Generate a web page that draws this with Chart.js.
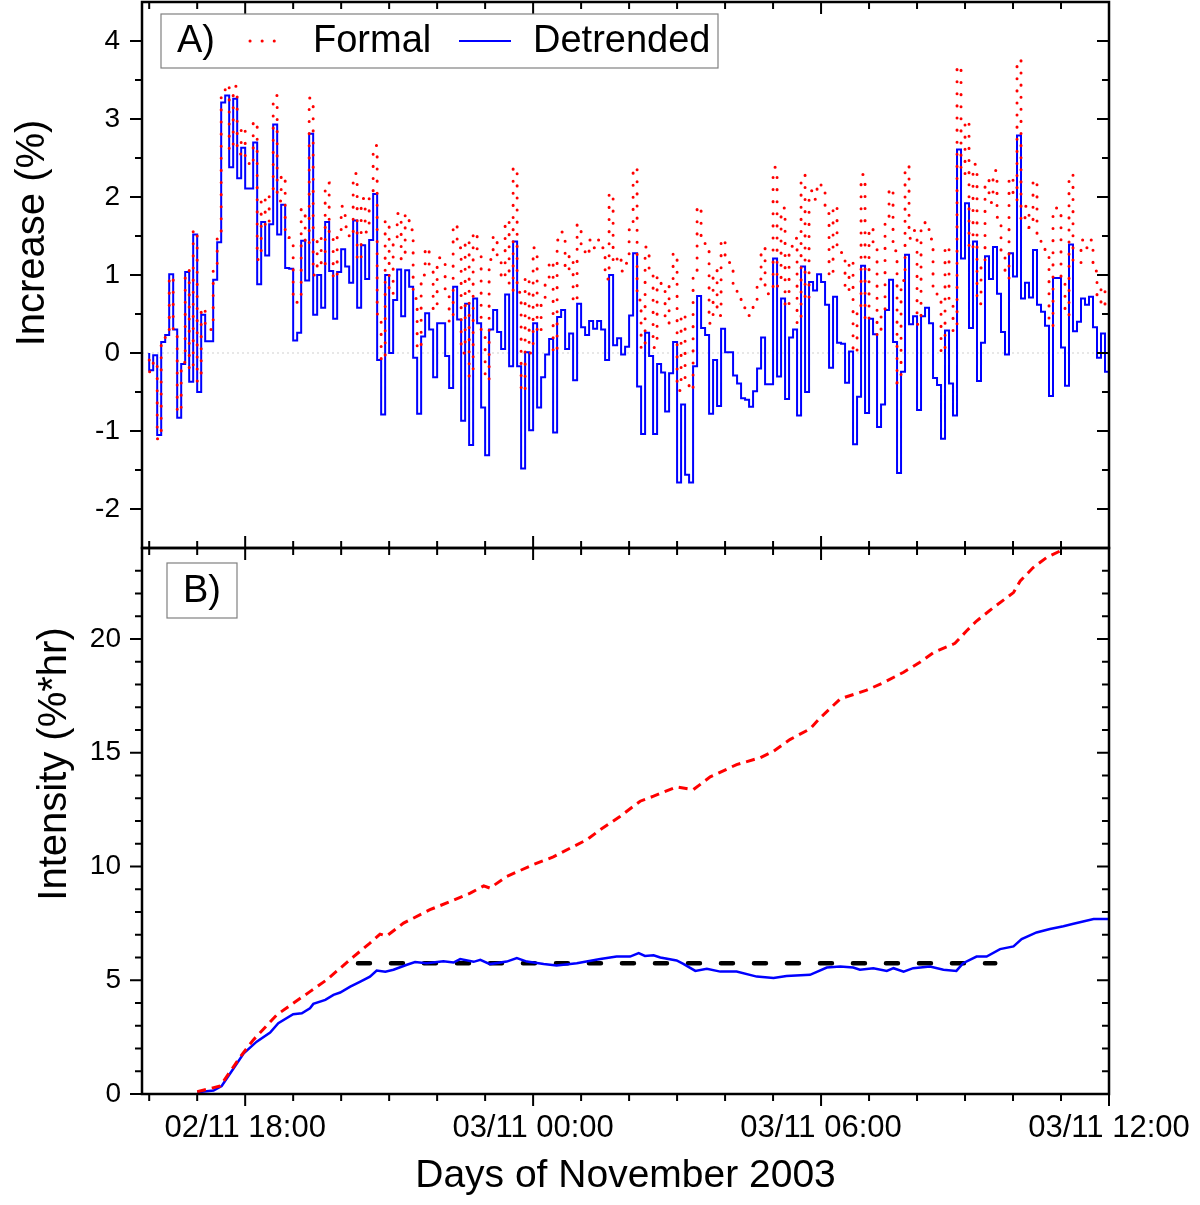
<!DOCTYPE html>
<html>
<head>
<meta charset="utf-8">
<script src="https://cdn.jsdelivr.net/npm/chart.js@4.4.1/dist/chart.umd.min.js"></script>
<style>
  html, body { margin: 0; padding: 0; background: #fff; }
  #wrap { position: relative; width: 1200px; height: 1205px; }
  canvas { position: absolute; left: 0; top: 0; }
</style>
</head>
<body>
<div id="wrap">
  <canvas id="increase" width="1200" height="1205"></canvas>
  <canvas id="intensity" width="1200" height="1205"></canvas>
</div>
<script>
const FONT = "'Liberation Sans', Arial, sans-serif";

// 5-minute samples starting 02/11 16:00 (x in hours counted from 02/11 00:00)
const sampleStart = 16;
const sampleStep = 5 / 60;

// panel A, one row per hour
const increaseDetrended = [
  0.00, -0.22, -0.03, -1.05, 0.14, 0.23, 1.01, 0.30, -0.83, -0.14, 1.04, -0.37,
  1.52, -0.50, 0.49, 0.15, 0.15, 0.94, 1.42, 3.21, 3.30, 2.38, 3.26, 2.24,
  2.63, 2.11, 2.11, 2.70, 0.88, 1.68, 1.25, 1.65, 2.93, 1.52, 1.90, 1.09,
  1.08, 0.16, 0.26, 1.44, 0.93, 2.81, 0.49, 1.00, 0.58, 1.68, 1.05, 0.44,
  1.04, 1.33, 1.11, 0.90, 1.70, 0.58, 1.38, 0.95, 1.45, 2.04, -0.09, -0.79,
  1.00, 0.00, 0.68, 1.07, 0.47, 1.06, 0.85, -0.06, -0.78, 0.21, 0.51, 0.30,
  -0.31, 0.38, 0.38, -0.04, -0.45, 0.85, 0.43, -0.87, 0.63, -1.18, 0.70, 0.38,
  -0.70, -1.31, 0.30, 0.55, 0.27, 0.05, 0.75, -0.17, 1.43, -0.17, -1.48, 0.01,
  -0.99, 0.38, -0.70, -0.31, -0.02, 0.18, -1.02, 0.46, 0.55, 0.05, 0.25, -0.35,
  0.63, 0.33, 0.23, 0.41, 0.31, 0.41, 0.30, -0.09, 1.00, 0.10, 0.19, -0.02,
  0.08, 0.48, 1.28, -0.43, -1.04, 0.26, -0.04, -1.04, -0.14, -0.25, -0.75, -0.26,
  0.14, -1.66, -0.66, -1.56, -1.66, -0.17, 0.73, 0.32, 0.23, -0.78, -0.09, -0.68,
  0.31, 0.01, 0.01, -0.29, -0.39, -0.58, -0.60, -0.69, -0.49, -0.20, 0.20, -0.40,
  -0.40, 1.21, -0.30, 0.70, -0.59, 0.20, 0.30, -0.80, 1.11, -0.50, 0.91, 0.80,
  1.01, 0.91, 0.62, -0.19, 0.72, 0.13, 0.12, -0.38, 0.02, -1.17, -0.56, 1.12,
  -0.77, 0.44, 0.24, -0.95, -0.66, 0.55, 0.94, 0.14, -1.54, -0.24, 1.26, 0.37,
  0.47, -0.73, 0.47, 0.58, 0.38, -0.32, -0.41, -1.10, 0.29, -0.39, -0.80, 2.61,
  1.21, 1.92, 0.32, 1.43, -0.36, 0.13, 1.24, 0.95, 1.36, 0.76, 0.27, -0.02,
  1.28, 0.98, 2.79, 0.70, 0.90, 0.71, 1.32, 0.62, 0.53, 0.35, -0.55, 0.96,
  0.96, 0.07, -0.42, 1.39, 0.28, 0.40, 0.70, 0.62, 0.72, 0.33, -0.06, 0.25,
  -0.24
];

const increaseFormal = [
  -0.09, -0.24, -0.10, -1.10, 0.10, 0.20, 0.98, 0.28, -0.76, -0.12, 1.06, -0.22,
  1.58, -0.36, 0.58, 0.34, 0.30, 1.10, 1.52, 3.33, 3.44, 2.60, 3.42, 2.55,
  2.90, 2.45, 2.40, 2.97, 1.20, 2.00, 1.62, 2.05, 3.30, 1.95, 2.28, 1.50,
  1.48, 0.65, 0.70, 1.85, 1.38, 3.27, 1.00, 1.50, 1.10, 2.18, 1.55, 0.95,
  1.55, 1.88, 1.62, 1.48, 2.30, 1.18, 1.98, 1.55, 2.05, 2.66, 0.50, -0.10,
  1.70, 0.75, 1.42, 1.79, 1.20, 1.78, 1.58, 0.70, 0.05, 1.00, 1.35, 1.12,
  0.55, 1.22, 1.20, 0.80, 0.40, 1.65, 1.35, 0.00, 1.45, -0.30, 1.55, 1.25,
  0.20, -0.35, 1.20, 1.50, 1.20, 0.95, 1.70, 0.80, 2.38, 0.78, -0.50, 0.98,
  0.00, 1.35, 0.25, 0.65, 0.95, 1.18, 0.00, 1.45, 1.55, 1.05, 1.25, 0.65,
  1.65, 1.35, 1.25, 1.45, 1.35, 1.45, 1.35, 0.95, 2.05, 1.15, 1.25, 1.05,
  1.15, 1.58, 2.38, 0.68, 0.05, 1.36, 1.06, 0.07, 0.98, 0.85, 0.38, 0.88,
  1.28, -0.48, 0.50, -0.40, -0.48, 1.00, 1.88, 1.48, 1.38, 0.38, 1.06, 0.48,
  1.46, 1.16, 1.16, 0.86, 0.76, 0.58, 0.55, 0.48, 0.66, 0.95, 1.35, 0.76,
  0.76, 2.38, 0.86, 1.86, 0.58, 1.37, 1.47, 0.38, 2.28, 0.67, 2.08, 1.97,
  2.18, 2.08, 1.79, 0.98, 1.89, 1.30, 1.29, 0.79, 1.19, 0.00, 0.61, 2.29,
  0.40, 1.61, 1.41, 0.22, 0.51, 1.72, 2.11, 1.31, -0.38, 0.93, 2.40, 1.47,
  1.57, 0.37, 1.57, 1.68, 1.46, 0.76, 0.67, 0.00, 1.37, 0.69, 0.28, 3.68,
  2.29, 2.98, 1.32, 2.42, 0.63, 1.12, 2.22, 1.93, 2.34, 1.74, 1.25, 0.96,
  2.26, 1.96, 3.76, 1.68, 1.88, 1.61, 2.22, 1.52, 1.43, 1.25, 0.35, 1.86,
  1.86, 0.97, 0.48, 2.29, 1.18, 1.15, 1.45, 1.35, 1.45, 1.05, 0.65, 0.85,
  0.60
];

// panel B, [hour, %*hr]
const intensityFormal = [
  [17.0, 0.10], [17.48, 0.35], [17.9, 1.64], [18.17, 2.38], [18.66, 3.48], [19.0, 3.99],
  [19.35, 4.50], [19.7, 5.02], [19.98, 5.53], [20.26, 6.04], [20.6, 6.63], [20.81, 7.03],
  [20.95, 6.95], [21.3, 7.51], [21.85, 8.10], [22.27, 8.46], [22.69, 8.83], [22.97, 9.15],
  [23.1, 9.05], [23.45, 9.56], [24.0, 10.08], [24.42, 10.42], [24.84, 10.88], [25.12, 11.18],
  [25.4, 11.62], [25.81, 12.20], [26.23, 12.87], [26.51, 13.09], [26.99, 13.50], [27.34, 13.38],
  [27.69, 13.94], [28.24, 14.48], [28.73, 14.78], [29.01, 15.07], [29.35, 15.58], [29.77, 16.05],
  [29.98, 16.53], [30.4, 17.37], [30.95, 17.75], [31.3, 18.08], [31.72, 18.54], [32.06, 18.98],
  [32.34, 19.40], [32.79, 19.81], [33.03, 20.35], [33.24, 20.79], [33.59, 21.38], [34.01, 22.04],
  [34.15, 22.55], [34.42, 23.14], [34.7, 23.58], [35.05, 23.94], [35.5, 24.6], [36.0, 25.2]
];

const intensityDetrended = [
  [17.0, 0.08], [17.34, 0.15], [17.51, 0.35], [17.76, 1.13], [17.97, 1.79], [18.24, 2.30],
  [18.52, 2.70], [18.69, 3.11], [19.0, 3.51], [19.18, 3.55], [19.35, 3.77], [19.42, 3.96],
  [19.67, 4.14], [19.84, 4.36], [19.98, 4.46], [20.19, 4.72], [20.4, 4.94], [20.6, 5.16],
  [20.74, 5.43], [20.92, 5.37], [21.09, 5.46], [21.37, 5.68], [21.54, 5.80], [21.78, 5.75],
  [22.13, 5.84], [22.34, 5.78], [22.48, 5.93], [22.76, 5.81], [22.9, 5.90], [23.1, 5.71],
  [23.45, 5.82], [23.66, 5.97], [23.87, 5.82], [24.22, 5.71], [24.49, 5.65], [24.91, 5.75],
  [25.4, 5.93], [25.74, 6.04], [26.02, 6.04], [26.2, 6.19], [26.33, 6.07], [26.51, 6.10],
  [26.65, 6.00], [26.99, 5.87], [27.13, 5.72], [27.38, 5.41], [27.62, 5.50], [27.9, 5.38],
  [28.24, 5.38], [28.66, 5.16], [29.01, 5.10], [29.28, 5.19], [29.77, 5.24], [30.12, 5.56],
  [30.4, 5.60], [30.67, 5.56], [30.81, 5.46], [31.09, 5.53], [31.37, 5.41], [31.51, 5.53],
  [31.72, 5.38], [31.92, 5.53], [32.27, 5.60], [32.55, 5.46], [32.82, 5.41], [32.96, 5.75],
  [33.24, 6.04], [33.45, 6.04], [33.73, 6.37], [34.01, 6.49], [34.18, 6.81], [34.49, 7.10],
  [34.77, 7.25], [35.05, 7.37], [35.26, 7.48], [35.68, 7.69], [36.0, 7.69]
];

const plateauLevel = 5.75;
const plateauSpan = [20.35, 33.63];

const xRange = [15.85, 36];
const xMajor = [18, 24, 30, 36];
const xTickLabels = ['02/11 18:00', '03/11 00:00', '03/11 06:00', '03/11 12:00'];
const increaseTicks = [-2, -1, 0, 1, 2, 3, 4];
const increaseMinor = [-1.5, -0.5, 0.5, 1.5, 2.5, 3.5];
const intensityTicks = [0, 5, 10, 15, 20];
const intensityMinor = [1, 2, 3, 4, 6, 7, 8, 9, 11, 12, 13, 14, 16, 17, 18, 19, 21, 22, 23];

const timeAt = i => sampleStart + i * sampleStep;

// frame plus tick marks on all four sides
function frameTicks(yMajor, yMinor, bottomOut) {
  return {
    id: 'frameTicks',
    afterDraw(chart) {
      const { ctx, chartArea: a, scales: { x, y } } = chart;
      ctx.save();
      ctx.strokeStyle = '#000';
      ctx.lineWidth = 2;
      ctx.beginPath();
      for (let h = Math.ceil(xRange[0]); h <= xRange[1]; h++) {
        const px = x.getPixelForValue(h);
        const len = xMajor.includes(h) ? 12 : 7;
        ctx.moveTo(px, a.top);
        ctx.lineTo(px, a.top + len);
        ctx.moveTo(px, a.bottom);
        ctx.lineTo(px, a.bottom + (bottomOut ? len : -len));
      }
      const yTick = (v, len) => {
        const py = y.getPixelForValue(v);
        ctx.moveTo(a.left, py);
        ctx.lineTo(a.left - len, py);
        ctx.moveTo(a.right, py);
        ctx.lineTo(a.right - len, py);
      };
      yMajor.forEach(v => yTick(v, 12));
      yMinor.forEach(v => yTick(v, 7));
      ctx.stroke();
      ctx.lineWidth = 2.5;
      ctx.strokeRect(a.left, a.top, a.right - a.left, a.bottom - a.top);
      ctx.restore();
    }
  };
}

function sideTitle(text, x, dy) {
  return {
    id: 'sideTitle',
    afterDraw(chart) {
      const { ctx, chartArea: a } = chart;
      ctx.save();
      ctx.translate(x, (a.top + a.bottom) / 2 + dy);
      ctx.rotate(-Math.PI / 2);
      ctx.font = `40px ${FONT}`;
      ctx.fillStyle = '#000';
      ctx.textAlign = 'center';
      ctx.textBaseline = 'middle';
      ctx.fillText(text, 0, 0);
      ctx.restore();
    }
  };
}

const zeroLine = {
  id: 'zeroLine',
  beforeDatasetsDraw(chart) {
    const { ctx, chartArea: a, scales: { y } } = chart;
    const py = y.getPixelForValue(0);
    ctx.save();
    ctx.strokeStyle = '#cfcfcf';
    ctx.lineWidth = 1;
    ctx.setLineDash([2, 3]);
    ctx.beginPath();
    ctx.moveTo(a.left, py);
    ctx.lineTo(a.right, py);
    ctx.stroke();
    ctx.restore();
  }
};

const panelLegend = {
  id: 'panelLegend',
  afterDraw(chart) {
    const { ctx, chartArea: a } = chart;
    const bx = a.left + 19, by = a.top + 12, bw = 557, bh = 54;
    const cy = by + bh / 2;
    ctx.save();
    ctx.fillStyle = '#fff';
    ctx.fillRect(bx, by, bw, bh);
    ctx.strokeStyle = '#808080';
    ctx.lineWidth = 1.2;
    ctx.strokeRect(bx, by, bw, bh);
    ctx.font = `38px ${FONT}`;
    ctx.fillStyle = '#000';
    ctx.textBaseline = 'middle';
    ctx.fillText('A)', bx + 16, cy + 1);
    ctx.fillText('Formal', bx + 152, cy + 1);
    ctx.fillText('Detrended', bx + 372, cy + 1);

    const [formal, detrended] = chart.data.datasets;
    ctx.lineCap = 'round';
    ctx.strokeStyle = formal.borderColor;
    ctx.lineWidth = formal.borderWidth;
    ctx.setLineDash(formal.borderDash);
    ctx.beginPath();
    ctx.moveTo(bx + 89, cy);
    ctx.lineTo(bx + 116, cy);
    ctx.stroke();

    ctx.lineCap = 'butt';
    ctx.setLineDash([]);
    ctx.strokeStyle = detrended.borderColor;
    ctx.lineWidth = detrended.borderWidth;
    ctx.beginPath();
    ctx.moveTo(bx + 298, cy);
    ctx.lineTo(bx + 350, cy);
    ctx.stroke();
    ctx.restore();
  }
};

const panelTag = {
  id: 'panelTag',
  afterDraw(chart) {
    const { ctx, chartArea: a } = chart;
    const bx = a.left + 25, by = a.top + 15, bw = 70, bh = 55;
    ctx.save();
    ctx.strokeStyle = '#808080';
    ctx.lineWidth = 1.2;
    ctx.strokeRect(bx, by, bw, bh);
    ctx.font = `38px ${FONT}`;
    ctx.fillStyle = '#000';
    ctx.textAlign = 'center';
    ctx.textBaseline = 'middle';
    ctx.fillText('B)', bx + bw / 2, by + bh / 2 + 1);
    ctx.restore();
  }
};

const common = {
  responsive: false,
  animation: false,
  devicePixelRatio: 1,
  events: [],
  plugins: { legend: { display: false }, tooltip: { enabled: false } }
};

const yAxis = (min, max, ticks, pad) => ({
  type: 'linear',
  position: 'left',
  min, max,
  afterBuildTicks: s => { s.ticks = ticks.map(v => ({ value: v })); },
  afterFit: s => { s.width = 142; s.paddingTop = 0; s.paddingBottom = 0; },
  grid: { display: false, drawTicks: false },
  border: { display: false },
  ticks: { color: '#000', font: { family: FONT, size: 28 }, padding: pad }
});

new Chart(document.getElementById('increase'), {
  type: 'line',
  data: {
    datasets: [
      {
        label: 'Formal',
        data: increaseFormal.map((v, i) => ({ x: timeAt(i), y: v })),
        stepped: 'after',
        borderColor: '#ff0000',
        borderWidth: 3,
        borderDash: [0.1, 12],
        borderCapStyle: 'round',
        pointRadius: 0
      },
      {
        label: 'Detrended',
        data: increaseDetrended.map((v, i) => ({ x: timeAt(i), y: v })),
        stepped: 'after',
        borderColor: '#0000ff',
        borderWidth: 2,
        borderJoinStyle: 'miter',
        pointRadius: 0
      }
    ]
  },
  options: {
    ...common,
    layout: { padding: { left: 0, top: 2, right: 91, bottom: 657 } },
    scales: {
      x: { type: 'linear', min: xRange[0], max: xRange[1], display: false },
      y: yAxis(-2.5, 4.5, increaseTicks, 22)
    }
  },
  plugins: [zeroLine, frameTicks(increaseTicks, increaseMinor, false), sideTitle('Increase (%)', 33, -42), panelLegend]
});

new Chart(document.getElementById('intensity'), {
  type: 'line',
  data: {
    datasets: [
      {
        label: 'Formal',
        data: intensityFormal.map(([h, v]) => ({ x: h, y: v })),
        borderColor: '#ff0000',
        borderWidth: 3,
        borderDash: [9, 6],
        pointRadius: 0
      },
      {
        label: 'Detrended',
        data: intensityDetrended.map(([h, v]) => ({ x: h, y: v })),
        borderColor: '#0000ff',
        borderWidth: 2.5,
        pointRadius: 0
      },
      {
        label: 'Plateau',
        data: plateauSpan.map(h => ({ x: h, y: plateauLevel })),
        borderColor: '#000',
        borderWidth: 4.5,
        borderDash: [12, 21],
        borderCapStyle: 'round',
        pointRadius: 0
      }
    ]
  },
  options: {
    ...common,
    layout: { padding: { left: 0, top: 548, right: 91, bottom: 0 } },
    scales: {
      x: {
        type: 'linear',
        position: 'bottom',
        min: xRange[0], max: xRange[1],
        afterBuildTicks: s => { s.ticks = xMajor.map(v => ({ value: v })); },
        afterFit: s => { s.height = 111; s.paddingLeft = 0; s.paddingRight = 0; },
        grid: { display: false, drawTicks: false },
        border: { display: false },
        ticks: {
          color: '#000', font: { family: FONT, size: 31 }, padding: 16,
          maxRotation: 0, autoSkip: false,
          callback: (v, i) => xTickLabels[i]
        },
        title: {
          display: true, text: 'Days of November 2003', color: '#000',
          font: { family: FONT, size: 39 }, padding: { top: 0, bottom: 5 }
        }
      },
      y: yAxis(0, 24, intensityTicks, 21)
    }
  },
  plugins: [frameTicks(intensityTicks, intensityMinor, true), sideTitle('Intensity (%*hr)', 55, -57), panelTag]
});
</script>
</body>
</html>
